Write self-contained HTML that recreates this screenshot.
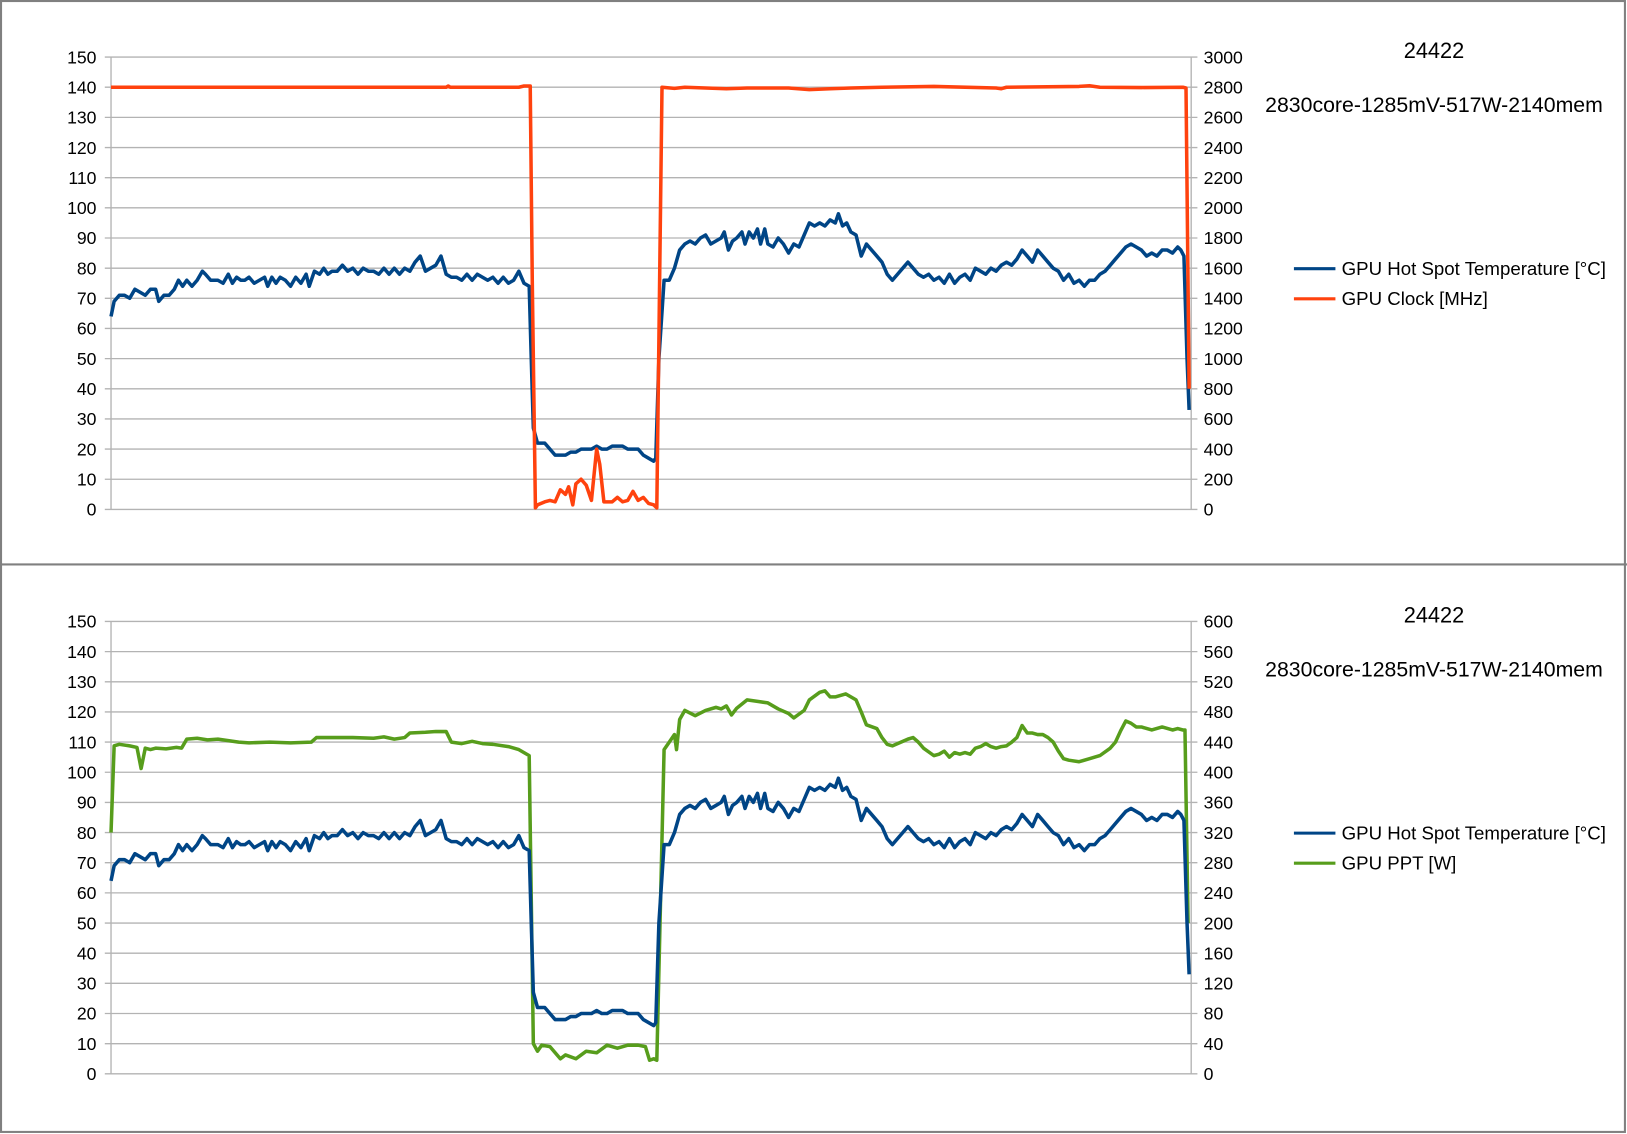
<!DOCTYPE html>
<html><head><meta charset="utf-8"><style>
html,body{margin:0;padding:0;background:#fff;}
svg{display:block;}
text{font-family:"Liberation Sans",Arial,sans-serif;fill:#000;}
</style></head><body>
<svg id="s" width="1627" height="1134" viewBox="0 0 1568 1093" preserveAspectRatio="none" xmlns="http://www.w3.org/2000/svg"></svg>
<script>
const NS="http://www.w3.org/2000/svg";
const s=document.getElementById('s');
function el(t,a,txt){const e=document.createElementNS(NS,t);for(const k in a)e.setAttribute(k,a[k]);if(txt!==undefined)e.textContent=txt;s.appendChild(e);return e;}
el('rect',{x:0,y:0,width:1568,height:1093,fill:'#fff'});
el('rect',{x:1,y:1,width:1565,height:1090,fill:'none',stroke:'#808080','stroke-width':2});
el('line',{x1:0,y1:544,x2:1568,y2:544,stroke:'#808080','stroke-width':2});
const X0=107,X1=1148;
const temp=[[107,64],[110,69],[115,71],[120,71],[125,70],[130,73],[135,72],[140,71],[145,73],[150,73],[153,69],[158,71],[163,71],[168,73],[172,76],[176,74],[180,76],[185,74],[190,76],[195,79],[198,78],[203,76],[210,76],[215,75],[220,78],[224,75],[228,77],[232,76],[236,76],[240,77],[245,75],[250,76],[255,77],[258,74],[262,77],[266,75],[270,77],[275,76],[280,74],[285,77],[290,75],[295,78],[298,74],[303,79],[308,78],[312,80],[316,78],[320,79],[325,79],[330,81],[335,79],[340,80],[345,78],[350,80],[355,79],[360,79],[365,78],[370,80],[375,78],[380,80],[385,78],[390,80],[395,79],[400,82],[405,84],[410,79],[415,80],[420,81],[425,84],[430,78],[435,77],[440,77],[445,76],[450,78],[455,76],[460,78],[465,77],[470,76],[475,77],[480,75],[485,77],[490,75],[495,76],[500,79],[505,75],[510,74],[512,50],[514,27],[518,22],[525,22],[530,20],[535,18],[540,18],[545,18],[550,19],[555,19],[560,20],[565,20],[570,20],[575,21],[580,20],[585,20],[590,21],[595,21],[600,21],[605,20],[610,20],[615,20],[620,18],[625,17],[630,16],[632,17],[635,50],[640,76],[645,76],[650,80],[655,86],[660,88],[665,89],[670,88],[675,90],[680,91],[685,88],[690,89],[695,90],[698,92],[702,86],[706,89],[710,90],[715,92],[718,88],[722,92],[726,90],[730,93],[733,88],[737,93],[740,88],[745,87],[750,90],[755,88],[760,85],[765,88],[770,87],[775,91],[780,95],[785,94],[790,95],[795,94],[800,96],[805,95],[808,98],[812,94],[816,95],[820,92],[825,91],[830,84],[835,88],[840,86],[845,84],[850,82],[855,78],[860,76],[865,78],[870,80],[875,82],[880,80],[885,78],[890,77],[895,78],[900,76],[905,77],[910,75],[915,78],[920,75],[925,77],[930,78],[935,76],[940,80],[945,79],[950,78],[955,80],[960,79],[965,81],[970,82],[975,81],[980,83],[985,86],[990,84],[995,82],[1000,86],[1005,84],[1010,82],[1015,80],[1020,79],[1025,76],[1030,78],[1035,75],[1040,76],[1045,74],[1050,76],[1055,76],[1060,78],[1065,79],[1070,81],[1075,83],[1080,85],[1085,87],[1090,88],[1095,87],[1100,86],[1105,84],[1110,85],[1115,84],[1120,86],[1125,86],[1130,85],[1135,87],[1138,86],[1141,84],[1144,50],[1146,33]];
let clock=[[107,2800],[200,2800],[300,2800],[430,2800],[432,2808],[434,2800],[500,2800],[505,2808],[511,2808],[513,1500],[516,10],[518,30],[525,50],[530,60],[535,50],[540,130],[545,100],[548,150],[552,30],[555,170],[560,200],[565,160],[570,60],[575,400],[578,300],[582,50],[590,50],[595,80],[600,50],[605,60],[610,120],[615,60],[620,80],[625,40],[630,30],[633,10],[638,2800],[650,2792],[660,2800],[700,2790],[720,2795],[760,2795],[780,2784],[800,2790],[820,2795],[850,2800],[900,2805],[960,2795],[965,2790],[970,2800],[1040,2805],[1050,2810],[1060,2800],[1100,2798],[1140,2800],[1143,2795],[1146,800]];
const ppt=[[107,320],[110,435],[115,437],[125,435],[132,433],[136,405],[140,432],[145,430],[150,432],[160,431],[170,433],[175,432],[180,444],[190,445],[200,443],[210,444],[220,442],[230,440],[240,439],[260,440],[280,439],[300,440],[305,446],[320,446],[340,446],[360,445],[370,447],[380,444],[390,446],[395,452],[410,453],[420,454],[430,454],[435,440],[445,438],[455,441],[465,438],[475,437],[490,434],[500,430],[505,426],[510,422],[514,40],[518,30],[522,38],[530,36],[540,20],[545,25],[555,20],[565,30],[575,28],[585,38],[595,34],[605,38],[615,38],[622,36],[626,18],[630,20],[633,18],[640,430],[645,440],[650,450],[652,430],[655,470],[660,482],[670,475],[680,482],[690,486],[695,484],[700,488],[705,476],[710,485],[720,496],[730,494],[740,492],[750,484],[760,478],[765,472],[775,482],[780,496],[790,506],[795,508],[800,500],[805,500],[815,504],[820,500],[825,496],[830,480],[835,463],[845,458],[850,446],[855,437],[860,435],[865,438],[875,444],[880,446],[885,440],[890,432],[900,422],[905,424],[910,428],[915,420],[920,426],[925,424],[930,426],[935,424],[940,432],[945,434],[950,438],[955,434],[960,432],[965,434],[970,435],[975,440],[980,446],[985,462],[990,452],[995,452],[1000,450],[1005,450],[1010,446],[1015,440],[1020,428],[1025,418],[1030,416],[1040,414],[1050,418],[1060,422],[1070,432],[1075,440],[1080,455],[1085,468],[1090,465],[1095,460],[1100,460],[1110,456],[1120,460],[1130,456],[1135,458],[1140,456],[1142,456],[1145,200]];
function chart(top,rmax,rstep,series2,col2,name2){
  const bot=top+436;
  for(let i=0;i<=15;i++){
    const y=bot-i*436/15;
    el('line',{x1:X0-6,y1:y,x2:X1+6,y2:y,stroke:'#b3b3b3','stroke-width':1.3});
    el('text',{x:93,y:y+6,'text-anchor':'end','font-size':17},String(i*10));
    el('text',{x:1160,y:y+6,'font-size':17},String(i*rstep));
  }
  el('line',{x1:X0,y1:top,x2:X0,y2:bot,stroke:'#b3b3b3','stroke-width':1.3});
  el('line',{x1:X1,y1:top,x2:X1,y2:bot,stroke:'#b3b3b3','stroke-width':1.3});
  const pt=(d,max)=>d.map(p=>p[0]+','+(bot-p[1]*436/max).toFixed(1)).join(' ');
  const order = name2==='GPU PPT [W]';
  const draw2=()=>el('polyline',{points:pt(series2,rmax),fill:'none',stroke:col2,'stroke-width':3.4,'stroke-linejoin':'round'});
  const draw1=()=>el('polyline',{points:pt(temp,150),fill:'none',stroke:'#004586','stroke-width':3.4,'stroke-linejoin':'round'});
  if(order){draw2();draw1();}else{draw1();draw2();}
  el('text',{x:1382,y:top+1,'text-anchor':'middle','font-size':21},'24422');
  el('text',{x:1382,y:top+53,'text-anchor':'middle','font-size':20.5},'2830core-1285mV-517W-2140mem');
  el('line',{x1:1247,y1:top+204,x2:1287,y2:top+204,stroke:'#004586','stroke-width':3});
  el('text',{x:1293,y:top+210,'font-size':18},'GPU Hot Spot Temperature [°C]');
  el('line',{x1:1247,y1:top+233,x2:1287,y2:top+233,stroke:col2,'stroke-width':3});
  el('text',{x:1293,y:top+239,'font-size':18},name2);
}
chart(55,3000,200,clock,'#ff420e','GPU Clock [MHz]');
chart(599,600,40,ppt,'#579d1c','GPU PPT [W]');
</script>
</body></html>
